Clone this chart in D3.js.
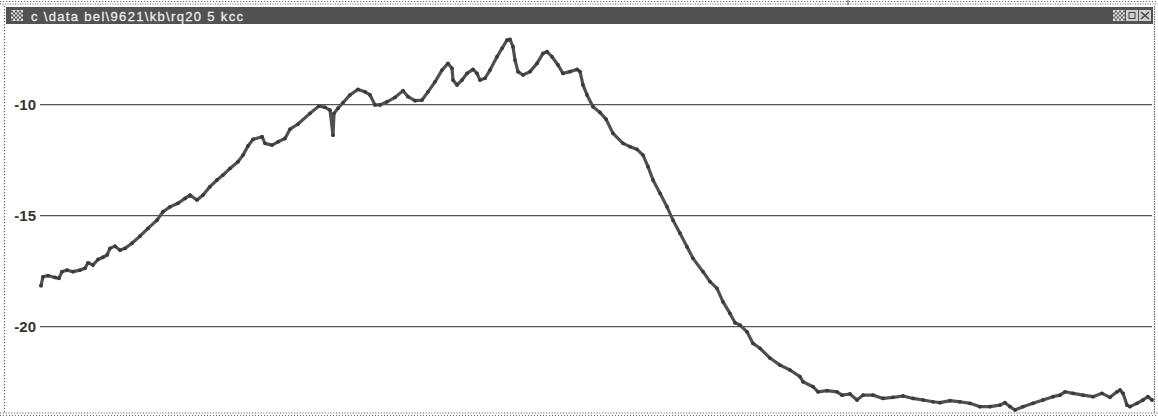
<!DOCTYPE html>
<html>
<head>
<meta charset="utf-8">
<script src="https://cdn.jsdelivr.net/npm/d3@7"></script>
<style>
  html, body { margin: 0; padding: 0; background: #fff; }
  svg { display: block; }
</style>
</head>
<body>
<svg id="chart" width="1158" height="417"></svg>
<script>
// ---- data (channel, value) ----
const channels = [0,2,7,14,18,21,26,32,39,44,47,52,57,62,66,69,74,79,84,91,99,107,116,122,129,137,144,149,156,162,
  169,176,182,189,197,202,207,212,221,224,231,237,244,249,257,269,278,284,289,292,293,297,302,309,317,324,329,334,339,346,
  354,362,367,374,381,387,394,401,407,411,412,416,421,426,432,436,439,444,449,456,461,466,469,472,474,477,482,489,496,502,
  506,511,517,522,529,536,539,542,546,552,559,565,572,582,589,596,602,607,612,619,626,632,639,646,652,662,669,676,682,689,
  694,699,706,712,719,729,739,749,759,762,772,777,786,796,801,809,816,822,832,842,852,862,872,882,892,899,909,919,929,939,
  949,959,964,969,974,982,992,1002,1012,1019,1024,1032,1042,1052,1061,1069,1076,1079,1082,1086,1089,1096,1102,1107,1111];
const values = [-18.18,-17.78,-17.73,-17.81,-17.85,-17.55,-17.48,-17.55,-17.48,-17.40,-17.15,-17.25,-17.00,-16.90,-16.80,-16.50,-16.40,-16.58,-16.50,-16.27,
  -15.95,-15.60,-15.23,-14.85,-14.63,-14.47,-14.25,-14.10,-14.32,-14.10,
  -13.72,-13.42,-13.20,-12.90,-12.60,-12.30,-11.89,-11.59,-11.47,-11.77,-11.85,-11.70,-11.55,-11.13,-10.90,-10.42,-10.09,-10.15,-10.27,-11.40,
  -10.42,-10.19,-9.94,-9.59,-9.34,-9.45,-9.59,-10.04,-10.04,-9.90,
  -9.70,-9.40,-9.67,-9.85,-9.82,-9.45,-9.00,-8.47,-8.17,-8.39,-8.92,-9.14,-8.92,-8.62,-8.44,-8.62,-8.92,-8.84,-8.47,-7.87,
  -7.49,-7.12,-7.09,-7.42,-8.02,-8.54,-8.69,-8.54,-8.17,-7.72,
  -7.64,-7.87,-8.24,-8.62,-8.54,-8.44,-8.54,-9.14,-9.59,-10.12,-10.38,-10.68,-11.32,-11.77,-11.92,-12.04,-12.30,-12.82,-13.42,-14.02,
  -14.63,-15.23,-15.82,-16.43,-16.95,-17.55,-18.00,-18.30,-18.91,-19.43,
  -19.85,-19.96,-20.26,-20.78,-21.00,-21.44,-21.76,-21.98,-22.28,-22.51,-22.73,-22.96,-22.91,-22.96,-23.11,-23.06,-23.33,-23.11,-23.11,-23.26,
  -23.21,-23.15,-23.26,-23.33,-23.41,-23.45,-23.36,-23.41,-23.48,-23.63,
  -23.63,-23.56,-23.45,-23.63,-23.78,-23.63,-23.48,-23.33,-23.18,-23.11,-22.96,-23.03,-23.11,-23.18,-23.03,-23.21,-22.96,-22.88,-23.03,-23.56,
  -23.63,-23.48,-23.33,-23.18,-23.33];
const yTicks = [-10, -15, -20];
const titleText = "c \\data  bel\\9621\\kb\\rq20  5 kcc";

// ---- layout ----
const W = 1158, H = 417;
const plot = { left: 41, right: 1152, top: 25, bottom: 412 };
const svg = d3.select("#chart");

const x = d3.scaleLinear().domain([0, 1111]).range([plot.left, plot.right]);
const y = d3.scaleLinear().domain([-23.87, -6.44]).range([plot.bottom, plot.top]);

// window frame (dotted)
const dotted = (x1, y1, x2, y2, dash) => svg.append("line")
  .attr("x1", x1).attr("y1", y1).attr("x2", x2).attr("y2", y2)
  .attr("stroke", "#666").attr("stroke-width", 1.2).attr("stroke-dasharray", dash || "1.2,1.8");
dotted(0, 1.5, W, 1.5);
dotted(0, 4, W, 4, "1,1.5");
dotted(4.5, 6, 4.5, 413);
dotted(1154.5, 6, 1154.5, 413, "1.5,1");
dotted(0, 413, W, 413, "1.2,1.6");
dotted(0, 415.5, W, 415.5, "1,2");
svg.append("line").attr("x1", 848).attr("x2", 848).attr("y1", 0).attr("y2", 5).attr("stroke", "#444");

// title bar
svg.append("rect").attr("x", 6).attr("y", 7).attr("width", 1147).attr("height", 17).attr("fill", "#525252");
// icon
const icon = svg.append("g").attr("transform", "translate(11,10)");
icon.append("rect").attr("width", 12).attr("height", 11).attr("fill", "#ddd");
for (let i = 0; i < 6; i++) for (let j = 0; j < 5; j++) if ((i + j) % 2 === 0)
  icon.append("rect").attr("x", i * 2).attr("y", j * 2 + 0.5).attr("width", 2).attr("height", 2).attr("fill", "#555");
svg.append("text").attr("x", 31).attr("y", 20.5)
  .attr("font-family", "Liberation Sans, Arial, sans-serif").attr("font-size", 13)
  .attr("fill", "#ececec").attr("stroke", "#ececec").attr("stroke-width", 0.3)
  .attr("textLength", 212).attr("lengthAdjust", "spacing")
  .text(titleText);
// window buttons
[1113, 1126, 1139].forEach((bx, k) => {
  const g = svg.append("g").attr("transform", `translate(${bx},10)`);
  g.append("rect").attr("width", 12).attr("height", 11).attr("fill", k === 0 ? "#ddd" : "#cfcfcf");
  if (k === 0) {
    for (let i = 0; i < 6; i++) for (let j = 0; j < 5; j++) if ((i + j) % 2 === 1)
      g.append("rect").attr("x", i * 2).attr("y", j * 2 + 0.5).attr("width", 2).attr("height", 2).attr("fill", "#666");
  } else if (k === 1) {
    g.append("rect").attr("x", 3).attr("y", 2.5).attr("width", 6).attr("height", 6).attr("fill", "none").attr("stroke", "#444");
  } else {
    g.append("path").attr("d", "M2,2 L10,9 M10,2 L2,9").attr("stroke", "#444").attr("stroke-width", 1.5);
  }
});

// gridlines + y labels
const yAxis = d3.axisLeft(y).tickValues(yTicks).tickSize(-(plot.right - 40)).tickFormat(d => String(d));
const ga = svg.append("g").attr("transform", "translate(40,0)").call(yAxis);
ga.select(".domain").remove();
ga.selectAll(".tick line").attr("stroke", "#555").attr("stroke-width", 1.2);
ga.selectAll(".tick text")
  .attr("x", -4).attr("dy", "0.34em")
  .attr("font-family", "Liberation Sans Narrow, Liberation Sans, Arial, sans-serif")
  .attr("font-weight", "bold").attr("font-size", 15).attr("fill", "#333");

// data line
const pts = channels.map((c, i) => [c, values[i]]);
const line = d3.line().x(d => x(d[0])).y(d => y(d[1]));
svg.append("path").datum(pts).attr("d", line)
  .attr("fill", "none").attr("stroke", "#505050").attr("stroke-width", 3.2)
  .attr("stroke-linejoin", "round").attr("stroke-linecap", "round");
svg.append("g").selectAll("circle").data(pts).join("circle")
  .attr("cx", d => x(d[0])).attr("cy", d => y(d[1])).attr("r", 1.9).attr("fill", "#3a3a3a");
</script>
</body>
</html>
